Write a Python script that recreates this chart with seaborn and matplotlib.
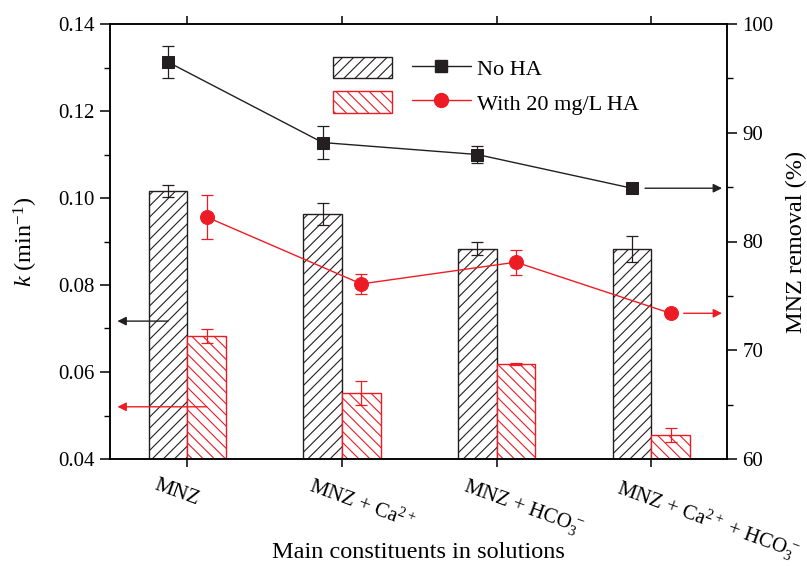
import numpy as np
import pandas as pd
import matplotlib
matplotlib.use("Agg")
import matplotlib.pyplot as plt
import matplotlib.transforms as mtransforms
from matplotlib.patches import Patch
from matplotlib.lines import Line2D
from matplotlib.legend_handler import HandlerTuple
from matplotlib.ticker import MultipleLocator, FormatStrFormatter
import seaborn as sns

# ---------------- data ----------------
categories = ["MNZ", r"MNZ + Ca$^{2+}$", r"MNZ + HCO$_3^{\,-}$", r"MNZ + Ca$^{2+}$ + HCO$_3^{\,-}$"]
series = ["No HA", "With 20 mg/L HA"]

k_no_ha = [0.1016, 0.0963, 0.0883, 0.0883]
k_no_ha_err = [0.0014, 0.0026, 0.0015, 0.0029]
k_ha = [0.0683, 0.0552, 0.0618, 0.0455]
k_ha_err = [0.0016, 0.0028, 0.0002, 0.0016]

removal_no_ha = [96.5, 89.1, 88.0, 84.9]
removal_no_ha_err = [1.5, 1.55, 0.8, 0.0]
removal_ha = [82.25, 76.1, 78.1, 73.4]
removal_ha_err = [2.05, 0.92, 1.15, 0.0]

left_arrow_k = [0.0717, 0.052]   # k levels of the arrows pointing to the left axis

# ---------------- style ----------------
BLACK = "#231f20"
RED = "#ed1c24"
HATCH_BLACK = "///"
HATCH_RED = "\\\\\\"

sns.set_style("ticks")
plt.rcParams["font.family"] = ["Liberation Serif", "DejaVu Serif"]
plt.rcParams["mathtext.fontset"] = "custom"
plt.rcParams["mathtext.rm"] = "Liberation Serif"
plt.rcParams["mathtext.it"] = "Liberation Serif:italic"
plt.rcParams["mathtext.bf"] = "Liberation Serif:bold"
plt.rcParams["hatch.linewidth"] = 0.8
plt.rcParams["axes.linewidth"] = 1.1
for key in ["text.color", "axes.labelcolor", "xtick.color", "ytick.color",
            "xtick.labelcolor", "ytick.labelcolor", "axes.edgecolor"]:
    plt.rcParams[key] = "black"

fig = plt.figure(figsize=(8.07, 5.66), dpi=100)
ax = fig.add_axes([110 / 807, 1 - 459 / 566, (727 - 110) / 807, (459 - 24) / 566])

df = pd.DataFrame({
    "category": categories * 2,
    "series": [series[0]] * 4 + [series[1]] * 4,
    "k": k_no_ha + k_ha,
})
sns.barplot(data=df, x="category", y="k", hue="series", order=categories,
            hue_order=series, palette=[BLACK, RED], width=0.5, gap=0,
            errorbar=None, legend=False, ax=ax)

bars = list(ax.patches)
colors = [BLACK] * 4 + [RED] * 4
hatches = [HATCH_BLACK] * 4 + [HATCH_RED] * 4
for p, c, h in zip(bars, colors, hatches):
    p.set_facecolor("white")
    p.set_edgecolor(c)
    p.set_hatch(h)
    p.set_linewidth(1.0)

x_black = [p.get_x() + p.get_width() / 2 for p in bars[:4]]
x_red = [p.get_x() + p.get_width() / 2 for p in bars[4:]]

ax.errorbar(x_black, k_no_ha, yerr=k_no_ha_err, fmt="none", ecolor=BLACK,
            elinewidth=0.9, capsize=4, capthick=0.9, zorder=5)
ax.errorbar(x_red, k_ha, yerr=k_ha_err, fmt="none", ecolor=RED,
            elinewidth=0.9, capsize=4, capthick=0.9, zorder=5)

ax.set_ylim(0.04, 0.14)
ax.set_xlim(-0.5, 3.49)
ax.yaxis.set_major_locator(MultipleLocator(0.02))
ax.yaxis.set_minor_locator(MultipleLocator(0.01))
ax.yaxis.set_major_formatter(FormatStrFormatter("%.2f"))

# ---------------- right axis: removal ----------------
ax2 = ax.twinx()
sns.lineplot(x=x_black, y=removal_no_ha, ax=ax2, color=BLACK, marker="s",
             markersize=9, markeredgecolor=BLACK, linewidth=1.0, zorder=4)
sns.lineplot(x=x_red, y=removal_ha, ax=ax2, color=RED, marker="o",
             markersize=10, markeredgecolor=RED, linewidth=1.0, zorder=4)
ax2.errorbar(x_black, removal_no_ha, yerr=removal_no_ha_err, fmt="none",
             ecolor=BLACK, elinewidth=0.9, capsize=4, capthick=0.9)
ax2.errorbar(x_red, removal_ha, yerr=removal_ha_err, fmt="none",
             ecolor=RED, elinewidth=0.9, capsize=4, capthick=0.9)
ax2.set_ylim(60, 100)
ax2.yaxis.set_major_locator(MultipleLocator(10))
ax2.yaxis.set_minor_locator(MultipleLocator(5))
ax2.set_xlim(-0.5, 3.49)

# arrows
arrow_kw = dict(arrowstyle="-|>", lw=1.0, mutation_scale=13, shrinkA=0, shrinkB=0)
ax.annotate("", xy=(-0.452, left_arrow_k[0]), xytext=(x_black[0] + 0.0, left_arrow_k[0]),
            arrowprops=dict(color=BLACK, **arrow_kw))
ax.annotate("", xy=(-0.452, left_arrow_k[1]), xytext=(x_red[0] + 0.0, left_arrow_k[1]),
            arrowprops=dict(color=RED, **arrow_kw))
ax2.annotate("", xy=(3.458, removal_no_ha[-1]), xytext=(x_black[-1] + 0.085, removal_no_ha[-1]),
             arrowprops=dict(color=BLACK, **arrow_kw))
ax2.annotate("", xy=(3.458, removal_ha[-1]), xytext=(x_red[-1] + 0.085, removal_ha[-1]),
             arrowprops=dict(color=RED, **arrow_kw))

# ---------------- ticks & labels ----------------
for a in (ax, ax2):
    for s in a.spines.values():
        s.set_visible(True)
        s.set_color("black")
        s.set_linewidth(1.1)

ax.tick_params(axis="y", which="major", direction="out", length=7, width=1.1,
               labelsize=15, pad=4, colors="black")
ax.tick_params(axis="y", which="minor", direction="out", length=4, width=1.0)
ax.tick_params(axis="x", which="major", direction="out", length=6, width=1.1,
               labelsize=15, pad=6, top=True, colors="black")
ax2.tick_params(axis="y", which="major", direction="out", length=7, width=1.1,
                labelsize=15, pad=4, colors="black")
ax2.tick_params(axis="y", which="minor", direction="out", length=4, width=1.0)

ax.set_xticks(range(len(categories)))
ax.set_xticklabels(categories, rotation=-20, ha="left", va="top",
                   rotation_mode="anchor")
offset = mtransforms.ScaledTranslation(-0.29, 0, fig.dpi_scale_trans)
for lab in ax.get_xticklabels():
    lab.set_transform(lab.get_transform() + offset)

ax.set_xlabel("Main constituents in solutions", fontsize=17.5, color="black")
ax.xaxis.set_label_coords(0.5, -0.19)
ax.set_ylabel(r"$k$ (min$^{-1}$)", fontsize=17.5, color="black")
ax.yaxis.set_label_coords(-0.113, 0.5)
ax2.set_ylabel("MNZ removal (%)", fontsize=17.5, color="black")
ax2.yaxis.set_label_coords(1.096, 0.5)

# ---------------- legend ----------------
handles = [
    (Patch(facecolor="white", edgecolor=BLACK, hatch=HATCH_BLACK, linewidth=1.0),
     Line2D([], [], color=BLACK, marker="s", markersize=9, linewidth=1.0)),
    (Patch(facecolor="white", edgecolor=RED, hatch=HATCH_RED, linewidth=1.0),
     Line2D([], [], color=RED, marker="o", markersize=10, linewidth=1.0)),
]
leg = ax2.legend(handles, series, handler_map={tuple: HandlerTuple(ndivide=None, pad=0.9)},
                 loc="upper left", bbox_to_anchor=(333 / 807, 1 - 57 / 566),
                 bbox_transform=fig.transFigure, frameon=False, borderpad=0,
                 borderaxespad=0, handlelength=6.2, handleheight=1.1,
                 handletextpad=0.3, labelspacing=0.5, fontsize=16)
for t in leg.get_texts():
    t.set_color("black")

fig.savefig("out.png", dpi=100)
